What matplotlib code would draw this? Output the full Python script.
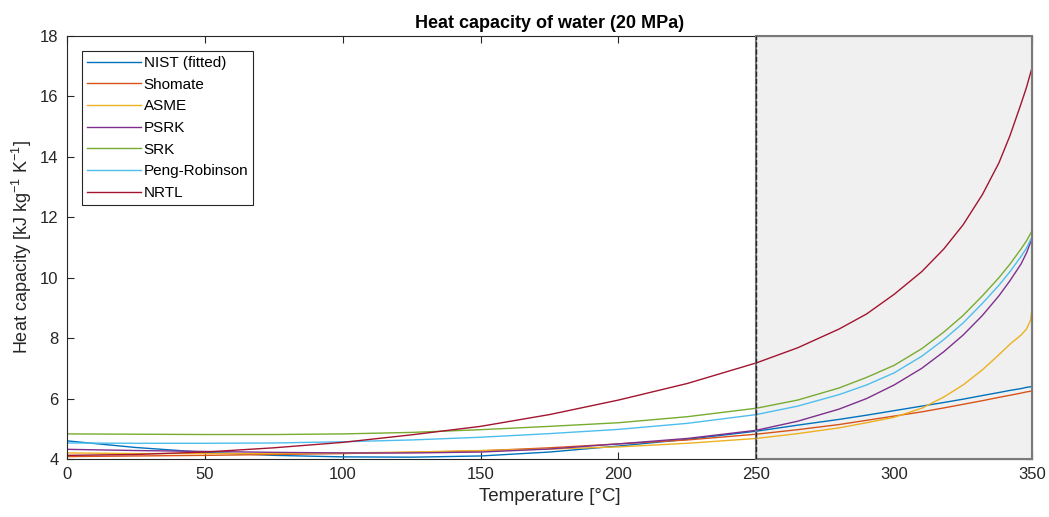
import numpy as np
import matplotlib
matplotlib.use("Agg")
import matplotlib.pyplot as plt
from matplotlib.patches import Rectangle

plt.rcParams['font.family'] = ['Liberation Sans', 'DejaVu Sans']
plt.rcParams['mathtext.fontset'] = 'custom'
plt.rcParams['mathtext.rm'] = 'Liberation Sans'

# temperatures [degC]
T = [0, 25, 50, 75, 100, 125, 150, 175, 200, 225, 250, 265, 280, 290, 300,
     310, 318, 325, 332, 338, 342, 346, 348, 350]
T_asme = [0, 25, 50, 75, 100, 125, 150, 175, 200, 225, 250, 265, 280, 290, 300,
          310, 318, 325, 332, 338, 342, 346, 348, 349.5, 350]

# heat capacity [kJ/kg/K] at 20 MPa
cp_nist = [4.60, 4.38, 4.22, 4.12, 4.07, 4.06, 4.10, 4.23, 4.43, 4.65, 4.92,
           5.12, 5.31, 5.45, 5.60, 5.75, 5.87, 5.98, 6.10, 6.20, 6.27, 6.33,
           6.37, 6.40]
cp_shomate = [4.08, 4.10, 4.12, 4.15, 4.18, 4.22, 4.27, 4.37, 4.50, 4.63, 4.82,
              4.97, 5.14, 5.28, 5.42, 5.56, 5.69, 5.81, 5.93, 6.04, 6.11, 6.18,
              6.22, 6.25]
cp_asme = [4.20, 4.18, 4.18, 4.18, 4.20, 4.23, 4.28, 4.33, 4.40, 4.52, 4.68,
           4.84, 5.03, 5.20, 5.38, 5.68, 6.05, 6.45, 6.95, 7.45, 7.80, 8.10,
           8.30, 8.60, 9.00]
cp_psrk = [4.32, 4.28, 4.25, 4.22, 4.20, 4.20, 4.23, 4.33, 4.50, 4.68, 4.95,
           5.25, 5.65, 6.00, 6.45, 7.00, 7.55, 8.10, 8.75, 9.40, 9.90, 10.45,
           10.82, 11.30]
cp_srk = [4.83, 4.82, 4.81, 4.81, 4.83, 4.88, 4.97, 5.08, 5.20, 5.40, 5.68,
          5.95, 6.35, 6.70, 7.10, 7.65, 8.20, 8.75, 9.40, 10.00, 10.45, 10.95,
          11.22, 11.55]
cp_pr = [4.53, 4.52, 4.52, 4.53, 4.57, 4.63, 4.72, 4.84, 4.98, 5.18, 5.47,
         5.75, 6.13, 6.45, 6.85, 7.40, 7.95, 8.50, 9.15, 9.75, 10.20, 10.70,
         10.98, 11.35]
cp_nrtl = [4.12, 4.15, 4.23, 4.37, 4.55, 4.80, 5.08, 5.47, 5.95, 6.50, 7.18,
           7.68, 8.30, 8.80, 9.45, 10.20, 10.95, 11.75, 12.75, 13.80, 14.70,
           15.75, 16.30, 16.95]

# shaded temperature zone
T_zone = [250, 350]

fig = plt.figure(figsize=(10.49, 5.17), dpi=100)
ax = fig.add_axes([0.0639, 0.1122, 0.9199, 0.8182])

ax.add_patch(Rectangle((T_zone[0], 4), T_zone[1] - T_zone[0], 14,
                       facecolor='#f0f0f0', edgecolor='none', zorder=1.6))
ax.add_patch(Rectangle((T_zone[0], 4), T_zone[1] - T_zone[0], 14,
                       fill=False, edgecolor='#7a7a7a', linewidth=1.5,
                       zorder=3, clip_on=False))
ax.axvline(T_zone[0], color='#262626', linestyle='--', linewidth=1.0, zorder=3.1)

lw = 1.0
ax.plot(T, cp_nist, color='#0072BD', lw=lw, label='NIST (fitted)')
ax.plot(T, cp_shomate, color='#D95319', lw=lw, label='Shomate')
ax.plot(T_asme, cp_asme, color='#EDB120', lw=lw, label='ASME')
ax.plot(T, cp_psrk, color='#7E2F8E', lw=lw, label='PSRK')
ax.plot(T, cp_srk, color='#77AC30', lw=lw, label='SRK')
ax.plot(T, cp_pr, color='#4DBEEE', lw=lw, label='Peng-Robinson')
ax.plot(T, cp_nrtl, color='#A2142F', lw=lw, label='NRTL')

ax.set_xlim(0, 350)
ax.set_ylim(4, 18)
ax.set_xticks(np.arange(0, 351, 50))
ax.set_yticks(np.arange(4, 19, 2))
ax.tick_params(direction='in', top=True, right=True, length=5, width=0.8,
               colors='#262626', labelsize=12, pad=6)
for s in ax.spines.values():
    s.set_color('#262626')
    s.set_linewidth(0.8)

ax.set_xlabel('Temperature [°C]', fontsize=13.5, color='#262626', labelpad=4)
ax.set_ylabel('Heat capacity [kJ kg$^{-1}$ K$^{-1}$]', fontsize=13,
              color='#262626')
ax.yaxis.set_label_coords(-0.034, 0.5)
ax.set_title('Heat capacity of water (20 MPa)', fontsize=13, fontweight='bold',
             pad=6)

leg = ax.legend(loc='upper left', bbox_to_anchor=(0.0155, 0.9645),
                borderaxespad=0, fancybox=False, fontsize=11,
                handlelength=3.5, handletextpad=0.2, labelspacing=0.5,
                borderpad=0.33, framealpha=1)
leg.get_frame().set_edgecolor('#262626')
leg.get_frame().set_linewidth(0.8)

fig.savefig('out.png', dpi=100)
